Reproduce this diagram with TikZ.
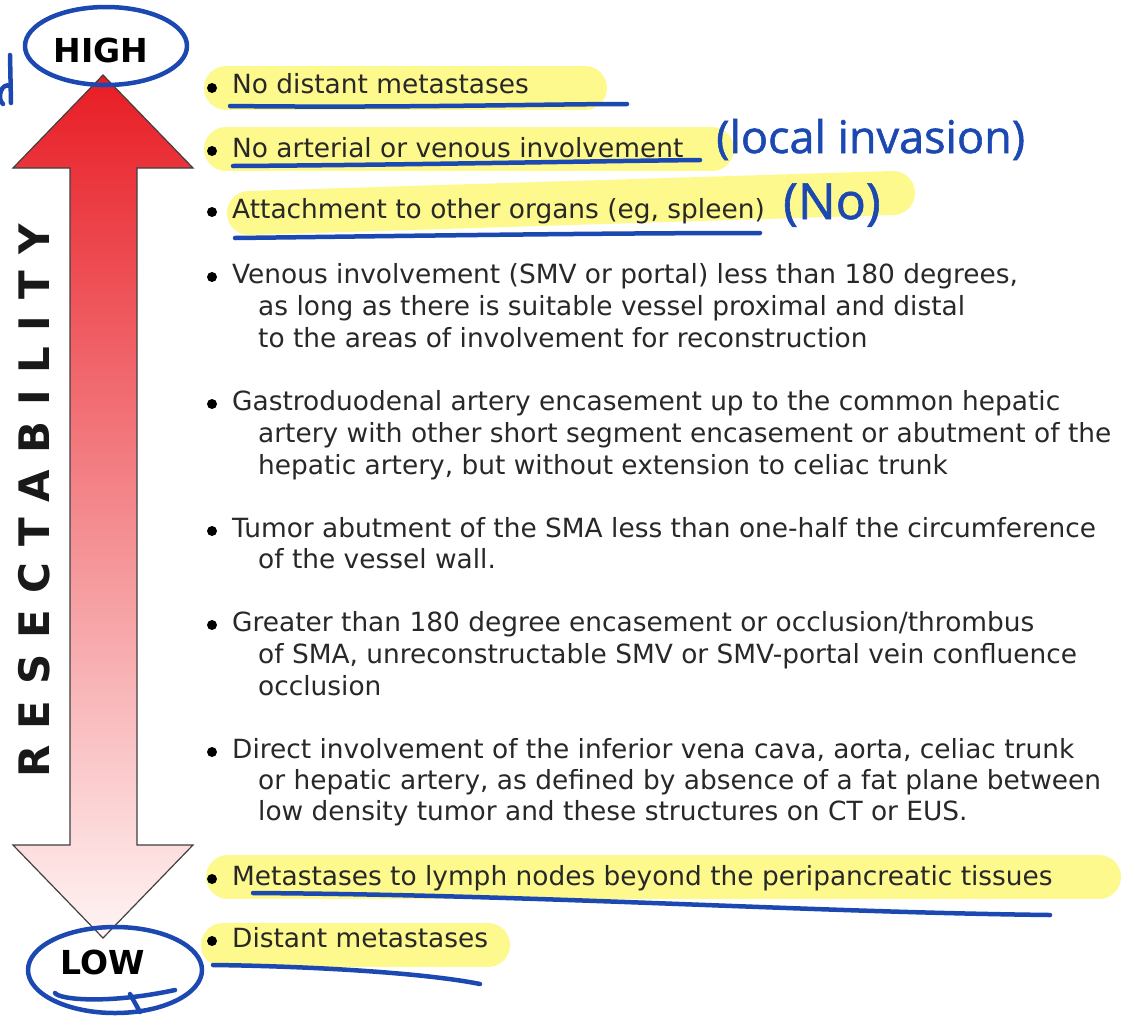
\documentclass[tikz,border=0pt]{standalone}
\usepackage{fontspec}
\setmainfont{DejaVu Sans}
\newfontfamily\handfont{Open Sans}[FakeBold=1.2]
\definecolor{hl}{RGB}{253,249,140}
\definecolor{pen}{RGB}{28,72,178}
\definecolor{txt}{RGB}{40,40,40}
\definecolor{arrtop}{RGB}{232,28,36}
\definecolor{arrbot}{RGB}{255,244,244}
\begin{document}
\begin{tikzpicture}[x=1pt,y=-1pt,
  item/.style={anchor=base west, inner sep=0pt, text=txt, font=\fontsize{26.4}{32}\selectfont},
  dotb/.style={circle, fill=black, inner sep=0pt, minimum size=10pt},
  hlbar/.style={draw=hl, line width=44pt, line cap=round},
  penline/.style={draw=pen, line width=4.5pt, line cap=round, line join=round},
  hand/.style={text=pen, font=\handfont\fontsize{45}{48}\selectfont, inner sep=0pt, anchor=base west},
  lvl/.style={font=\bfseries\fontsize{33}{36}\selectfont, text=black, inner sep=0pt}]
\useasboundingbox[fill=white] (0,0) rectangle (1131,1015);

% highlights
\draw[hlbar] (226,88) -- (585,88);
\draw[hlbar] (226,149) -- (712,149);
\draw[hlbar] (249,213) -- (893,193);
\draw[hlbar] (228,877) -- (1099,877);
\draw[hlbar] (223,945) -- (488,945);

% arrow
\path[draw=black!75, line width=1.2pt, top color=arrtop, bottom color=arrbot]
  (103,75) -- (193,168) -- (137,168) -- (137,845) -- (193,845) -- (103,938)
  -- (13,845) -- (70,845) -- (70,168) -- (13,168) -- cycle;

\node[lvl] (high) at (101,50) {HIGH};
\node[lvl] (low) at (103,962) {LOW};
\node[rotate=90, inner sep=0pt, font=\bfseries\fontsize{42}{44}\selectfont, text=black!90] (res) at (34,501)
  {R\kern16pt E\kern16pt S\kern16pt E\kern16pt C\kern16pt T\kern16pt A\kern16pt B\kern16pt I\kern16pt L\kern16pt I\kern16pt T\kern16pt Y};

% bullets
\foreach \n/\y in {b1/88,b2/151,b3/212,b4/277,b5/404,b6/531,b7/625,b8/752,b9/879,b10/941}
  \node[dotb] (\n) at (212,\y) {};

% items
\node[item] (t1) at (232,93) {No distant metastases};
\node[item] (t2) at (232,157) {No arterial or venous involvement};
\node[item] (t3) at (232,218) {Attachment to other organs (eg, spleen)};
\node[item] (t4a) at (232,283) {Venous involvement (SMV or portal) less than 180 degrees,};
\node[item] (t4b) at (258,315) {as long as there is suitable vessel proximal and distal};
\node[item] (t4c) at (258,347) {to the areas of involvement for reconstruction};
\node[item] (t5a) at (232,410) {Gastroduodenal artery encasement up to the common hepatic};
\node[item] (t5b) at (258,442) {artery with other short segment encasement or abutment of the};
\node[item] (t5c) at (258,474) {hepatic artery, but without extension to celiac trunk};
\node[item] (t6a) at (232,537) {Tumor abutment of the SMA less than one-half the circumference};
\node[item] (t6b) at (258,568) {of the vessel wall.};
\node[item] (t7a) at (232,631) {Greater than 180 degree encasement or occlusion/thrombus};
\node[item] (t7b) at (258,663) {of SMA, unreconstructable SMV or SMV-portal vein confluence};
\node[item] (t7c) at (258,695) {occlusion};
\node[item] (t8a) at (232,758) {Direct involvement of the inferior vena cava, aorta, celiac trunk};
\node[item] (t8b) at (258,789) {or hepatic artery, as defined by absence of a fat plane between};
\node[item] (t8c) at (258,820) {low density tumor and these structures on CT or EUS.};
\node[item] (t9) at (232,885) {Metastases to lymph nodes beyond the peripancreatic tissues};
\node[item] (t10) at (232,947) {Distant metastases};

% handwriting
\node[hand] (h1) at (716,153) {(local invasion)};
\node[hand, font=\handfont\fontsize{50}{52}\selectfont] (h2) at (783,219) {(No)};

\draw[penline] (106,46) ellipse [x radius=81, y radius=39];
\draw[penline] (115,970) ellipse [x radius=87, y radius=43];
\draw[penline] (55,993) .. controls (60,1000) and (110,1004) .. (175,990);
\draw[penline] (130,994) -- (140,1012);
\draw[penline] (10,55) -- (11,103);
\draw[penline] (10,86) .. controls (2,82) and (-4,98) .. (3,104);

\draw[penline] (230,106) .. controls (400,108) and (550,104) .. (627,104);
\draw[penline] (233,166) .. controls (400,165) and (600,161) .. (700,160);
\draw[penline] (235,238) .. controls (400,236) and (600,233) .. (760,233);
\draw[penline] (253,893) .. controls (550,895) and (800,912) .. (1050,915);
\draw[penline] (213,965) .. controls (300,966) and (420,972) .. (480,984);
\end{tikzpicture}
\end{document}
